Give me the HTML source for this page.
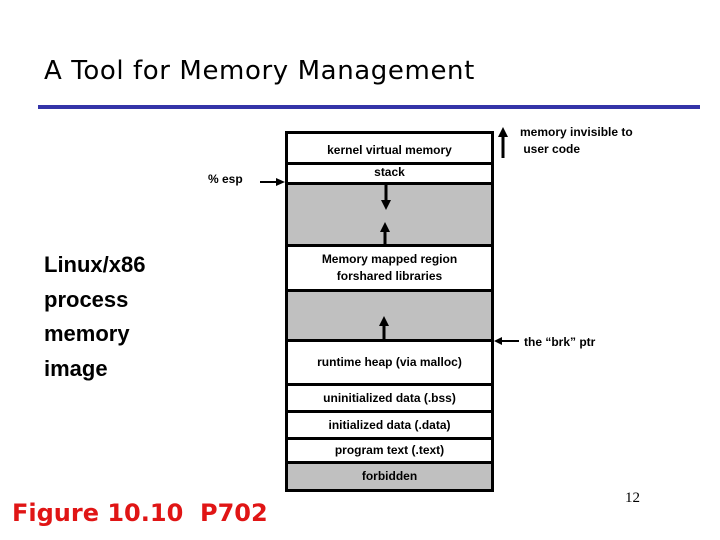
<!DOCTYPE html>
<html><head><meta charset="utf-8"><style>
body{margin:0;width:720px;height:540px;background:#fff;position:relative;overflow:hidden;font-family:"Liberation Sans",sans-serif}
.a{position:absolute}
.seg{position:absolute;left:285px;width:203px;border:3px solid #000;border-top:none;font-size:12px;font-weight:bold;text-align:center;display:flex;align-items:center;justify-content:center;line-height:17px;color:#000}
.g{background:#c0c0c0}
</style></head><body>
<div class="a" style="left:44px;top:56px;font-size:26px;letter-spacing:0.6px;font-family:'DejaVu Sans',sans-serif">A Tool for Memory Management</div>
<div class="a" style="left:38px;top:105px;width:662px;height:4px;background:#3434a8"></div>

<div class="seg" style="top:131px;height:28px;border-top:3px solid #000"><span style="position:relative;top:2px">kernel virtual memory</span></div>
<div class="seg" style="top:162px;height:20px">stack</div>
<div class="seg g" style="top:185px;height:59px"></div>
<div class="seg" style="top:247px;height:42px">Memory mapped region<br>forshared libraries</div>
<div class="seg g" style="top:292px;height:47px"></div>
<div class="seg" style="top:342px;height:41px">runtime heap (via malloc)</div>
<div class="seg" style="top:386px;height:24px">uninitialized data (.bss)</div>
<div class="seg" style="top:413px;height:24px">initialized data (.data)</div>
<div class="seg" style="top:440px;height:21px">program text (.text)</div>
<div class="seg g" style="top:464px;height:25px">forbidden</div>

<svg class="a" style="left:0;top:0" width="720" height="540">
<g fill="#000" stroke="#000">
<line x1="386" y1="185" x2="386" y2="202" stroke-width="3"/><polygon points="381,200 391,200 386,210" stroke="none"/>
<line x1="385" y1="247" x2="385" y2="230" stroke-width="3"/><polygon points="380,232 390,232 385,222" stroke="none"/>
<line x1="384" y1="342" x2="384" y2="324" stroke-width="3"/><polygon points="379,326 389,326 384,316" stroke="none"/>
<line x1="260" y1="182" x2="278" y2="182" stroke-width="2"/><polygon points="276,178 276,186 285,182" stroke="none"/>
<line x1="519" y1="341" x2="500" y2="341" stroke-width="2"/><polygon points="502,337 502,345 494,341" stroke="none"/>
<line x1="503" y1="158" x2="503" y2="135" stroke-width="3"/><polygon points="498,137 508,137 503,127" stroke="none"/>
</g>
</svg>

<div class="a" style="left:208px;top:172px;font-size:12px;font-weight:bold">% esp</div>
<div class="a" style="left:520px;top:124px;font-size:12px;font-weight:bold;line-height:17px">memory invisible to<br>&nbsp;user code</div>
<div class="a" style="left:524px;top:335px;font-size:12px;font-weight:bold">the “brk” ptr</div>
<div class="a" style="left:44px;top:248px;font-size:22px;font-weight:bold;line-height:34.5px">Linux/x86<br>process<br>memory<br>image</div>
<div class="a" style="left:12px;top:499px;font-size:24px;font-weight:bold;color:#e01515;font-family:'DejaVu Sans',sans-serif">Figure 10.10&nbsp; P702</div>
<div class="a" style="left:625px;top:490px;font-size:15px;font-family:'Liberation Serif',serif">12</div>
</body></html>
